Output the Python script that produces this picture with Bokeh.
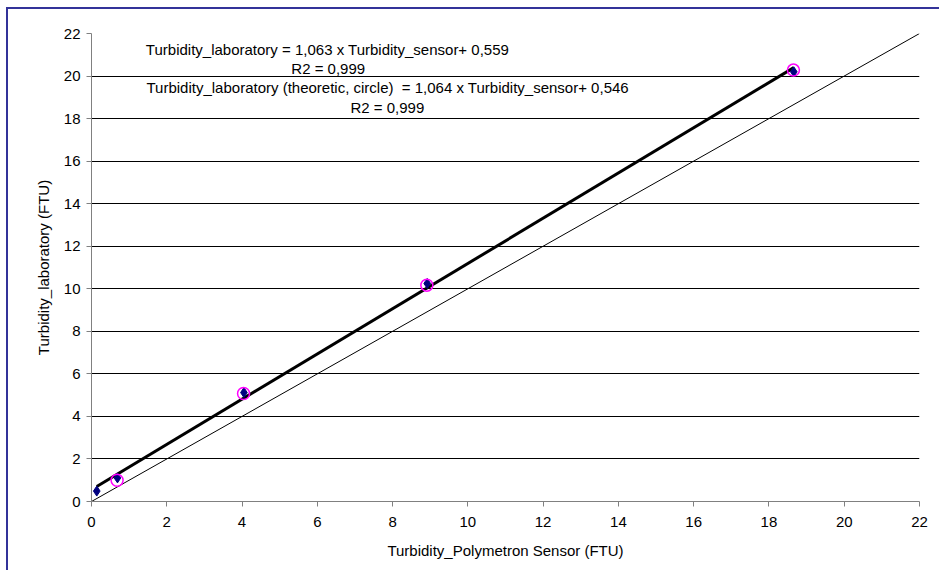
from bokeh.plotting import figure
from bokeh.models import Range1d, FixedTicker, Label
from bokeh.embed import file_html
from bokeh.resources import INLINE

# Sensor readings vs laboratory turbidity (FTU)
sensor = [0.14, 0.69, 4.05, 8.92, 18.66]
laboratory = [0.49, 1.11, 5.12, 10.25, 20.20]
# Theoretic (circle) values
circle_x = [0.68, 4.04, 8.91, 18.65]
circle_y = [1.00, 5.08, 10.17, 20.28]

# Linear fit of laboratory on sensor
slope = 1.063
intercept = 0.559
fit_x = [min(sensor), max(sensor)]
fit_y = [slope * v + intercept for v in fit_x]

# 1:1 reference line
diag = [0, 22]

ticks = list(range(0, 23, 2))

FONT = "Liberation Sans"

p = figure(
    width=933, height=563,
    x_range=Range1d(0, 22), y_range=Range1d(0, 22),
    output_backend="svg", toolbar_location=None,
    min_border_left=83, min_border_right=22,
    min_border_top=24, min_border_bottom=71,
)
p.styles = {
    "border-left": "2px solid #333399",
    "border-top": "2px solid #333399",
    "margin-left": "6px",
    "margin-top": "7px",
}
p.outline_line_color = None
p.background_fill_color = "white"
p.border_fill_color = "white"

p.xgrid.visible = False
p.ygrid.ticker = FixedTicker(ticks=ticks)
p.ygrid.grid_line_color = "black"
p.ygrid.grid_line_width = 1

for ax in (p.xaxis[0], p.yaxis[0]):
    ax.ticker = FixedTicker(ticks=ticks)
    ax.axis_line_color = "#808080"
    ax.major_tick_line_color = "#808080"
    ax.major_tick_out = 5
    ax.major_tick_in = 0
    ax.minor_tick_line_color = None
    ax.major_label_text_font = FONT
    ax.major_label_text_font_size = "15px"
    ax.major_label_text_color = "black"
    ax.axis_label_text_font = FONT
    ax.axis_label_text_font_size = "15px"
    ax.axis_label_text_font_style = "normal"
    ax.axis_label_text_color = "black"

p.xaxis.axis_label = "Turbidity_Polymetron Sensor (FTU)"
p.yaxis.axis_label = "Turbidity_laboratory (FTU)"
p.xaxis.major_label_standoff = 10
p.xaxis.axis_label_standoff = 12
p.yaxis.major_label_standoff = 6
p.yaxis.axis_label_standoff = 9

# 1:1 line, fit line, measured points, theoretic circles
p.line(diag, diag, line_color="black", line_width=1)
p.line(fit_x, fit_y, line_color="black", line_width=3)
p.scatter(sensor, laboratory, marker="diamond", size=10,
          fill_color="#000080", line_color="#000080")
p.scatter(circle_x, circle_y, marker="circle", size=12,
          fill_color=None, line_color="#FF00FF", line_width=1.5)

notes = [
    (6.27, 21.24, "Turbidity_laboratory = 1,063 x Turbidity_sensor+ 0,559"),
    (6.29, 20.36, "R2 = 0,999"),
    (7.87, 19.44, "Turbidity_laboratory (theoretic, circle)\u00a0 = 1,064 x Turbidity_sensor+ 0,546"),
    (7.86, 18.52, "R2 = 0,999"),
]
for nx, ny, txt in notes:
    p.add_layout(Label(x=nx, y=ny, text=txt, text_align="center",
                       text_baseline="middle", text_font=FONT,
                       text_font_size="15px", text_color="black"))

open("out.html", "w").write(file_html(p, INLINE))
